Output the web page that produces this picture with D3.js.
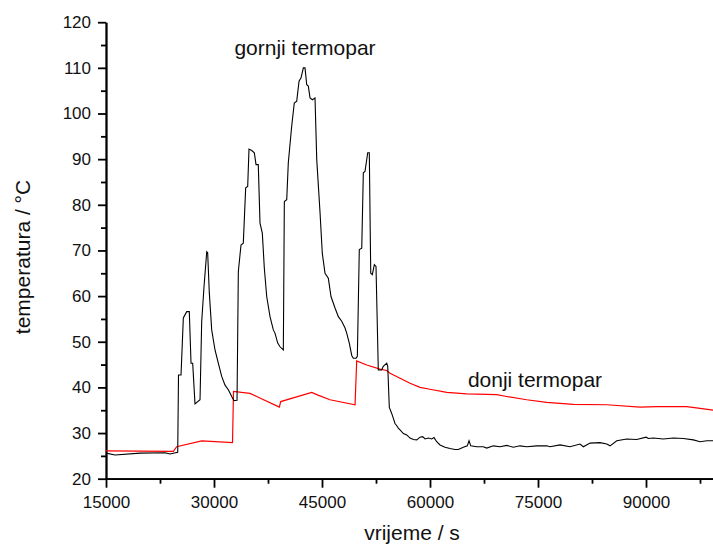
<!DOCTYPE html>
<html>
<head>
<meta charset="utf-8">
<script src="https://cdn.jsdelivr.net/npm/d3@7"></script>
<style>
  body { margin: 0; background: #fff; }
  svg { font-family: Arial, "Liberation Sans", sans-serif; }
  .axis path, .axis line { stroke: #000; stroke-width: 1.8; }
  .axis text { font-size: 17px; fill: #111; font-family: Arial, "Liberation Sans", sans-serif; }
</style>
</head>
<body>
<svg id="chart" width="713" height="550"></svg>
<script>
// upper thermocouple (gornji termopar): time [s], temperature [°C]
var gornjiT = [15000,16250,19720,23200,23890,24960,25070,25420,25740,26210,26570,26810,27040,27360,28060,28290,28610,28990,29120,29350,29680,30140,30600,31070,31530,31990,32460,32780,33200,33380,33750,34070,34400,34680,34860,35240,35600,35840,36150,36390,36710,36990,37320,37780,38240,38470,38850,39170,39630,39770,40100,40320,40790,41150,41490,41810,42090,42410,42640,42880,43100,43340,43660,44030,44270,44730,45040,45420,45880,46250,46810,47270,47740,48200,48430,48790,49130,49350,49730,49910,50180,50520,50740,50970,51350,51570,51770,51990,52270,52500,52820,53290,53510,53990,54130,54350,54680,54910,55140,55380,55600,55840,56300,56770,57230,57680,58160,58610,58990,59310,59770,60240,60560,60930,61390,62090,62780,63480,63930,64630,65180,65420,65660,66490,67410,67880,68800,69730,70650,71570,72500,73430,74820,76210,76670,78060,79450,80840,81300,82230,83620,84550,85010,85940,87330,88720,90010,90330,91020,92410,93800,95190,96580,97510,98440,99370];
var gornjiV = [25.6,25.2,25.6,25.7,25.4,25.8,42.7,42.7,55.2,56.6,56.6,45.3,45.3,36.4,37.3,54.4,62.0,69.7,69.5,60.7,52.6,48.2,45.3,42.4,40.5,39.5,38.0,37.1,37.2,65.4,71.2,71.6,83.7,84.0,92.2,91.9,91.4,88.8,88.8,76.0,73.8,66.1,59.9,55.5,52.6,51.9,49.7,48.9,48.2,80.7,81.1,89.2,97.2,102.3,102.7,107.1,107.8,110.0,110.0,106.3,106.0,103.4,103.0,103.4,89.9,78.2,69.4,65.0,63.9,59.9,57.4,55.5,54.5,53.0,51.9,49.7,47.0,46.4,46.4,46.8,70.2,70.5,87.0,87.3,91.4,91.4,65.0,64.7,66.9,66.5,43.8,43.8,44.6,45.3,44.6,35.6,34.3,33.2,32.1,31.6,31.1,30.7,29.9,29.6,28.9,28.6,28.5,29.1,29.2,28.7,28.9,28.7,29.0,28.1,27.4,26.9,26.6,26.4,26.4,26.9,27.2,28.3,27.2,27.0,27.0,26.7,27.2,27.0,27.3,26.9,27.2,27.0,27.2,27.2,27.0,27.4,27.0,27.6,27.0,27.8,27.9,27.6,27.2,28.3,28.7,28.6,29.1,28.8,28.9,28.7,28.9,28.8,28.5,28.1,28.3,28.3];

// lower thermocouple (donji termopar)
var donjiT = [15000,24350,24820,28290,32570,32710,35000,35930,39070,39270,43570,44450,46110,49590,49820,51210,53060,53990,54450,55840,57230,58610,60000,62320,65100,69270,70660,73430,76210,79910,84550,89170,91490,95660,97510,99370];
var donjiV = [26.1,26.0,27.0,28.3,27.9,39.1,38.7,38.0,35.7,36.9,38.9,38.3,37.3,36.2,45.8,44.9,44.0,43.7,43.1,42.0,40.9,40.0,39.6,38.9,38.6,38.4,38.0,37.3,36.7,36.3,36.2,35.7,35.8,35.8,35.4,35.0];

var xTicks = [15000, 30000, 45000, 60000, 75000, 90000];
var yTicks = [20, 30, 40, 50, 60, 70, 80, 90, 100, 110, 120];

var svg = d3.select("#chart");
var plotLeft = 106, plotBottom = 478.7, plotTop = 22.2;

var x = d3.scaleLinear().domain([15000, 100000]).range([plotLeft, plotLeft + 85000 * 0.0072]);
var y = d3.scaleLinear().domain([20, 120]).range([plotBottom, plotTop]);

svg.append("clipPath").attr("id", "clip")
  .append("rect").attr("x", plotLeft).attr("y", 0).attr("width", 713 - plotLeft).attr("height", plotBottom);

/* minor ticks */
var xMinor = d3.range(22500, 100000, 15000);
var yMinor = d3.range(25, 120, 10);
svg.append("g").attr("class", "axis")
  .attr("transform", "translate(0," + plotBottom + ")")
  .call(d3.axisBottom(x).tickValues(xMinor).tickFormat("").tickSize(5).tickSizeOuter(0));
svg.append("g").attr("class", "axis")
  .attr("transform", "translate(" + plotLeft + ",0)")
  .call(d3.axisLeft(y).tickValues(yMinor).tickFormat("").tickSize(5).tickSizeOuter(0));

/* main axes */
svg.append("g").attr("class", "axis")
  .attr("transform", "translate(0," + plotBottom + ")")
  .call(d3.axisBottom(x).tickValues(xTicks).tickFormat(d3.format("d")).tickSize(9).tickPadding(8).tickSizeOuter(0));
svg.append("g").attr("class", "axis")
  .attr("transform", "translate(" + plotLeft + ",0)")
  .call(d3.axisLeft(y).tickValues(yTicks).tickSize(8).tickPadding(7).tickSizeOuter(0));

/* lines */
var line = d3.line()
  .x(function (d) { return x(d[0]); })
  .y(function (d) { return y(d[1]); });

var plot = svg.append("g").attr("clip-path", "url(#clip)");
plot.append("path")
  .datum(donjiT.map(function (t, i) { return [t, donjiV[i]]; }))
  .attr("d", line).attr("fill", "none").attr("stroke", "#ff0000").attr("stroke-width", 1.2);
plot.append("path")
  .datum(gornjiT.map(function (t, i) { return [t, gornjiV[i]]; }))
  .attr("d", line).attr("fill", "none").attr("stroke", "#000").attr("stroke-width", 1.1);

/* labels */
svg.append("text").attr("x", 305).attr("y", 55).attr("text-anchor", "middle")
  .style("font-size", "21px").attr("fill", "#111").text("gornji termopar");
svg.append("text").attr("x", 535).attr("y", 387).attr("text-anchor", "middle")
  .style("font-size", "21px").attr("fill", "#111").text("donji termopar");

svg.append("text").attr("x", 412).attr("y", 540).attr("text-anchor", "middle")
  .style("font-size", "21px").attr("fill", "#111").text("vrijeme / s");
svg.append("text").attr("transform", "translate(30,257) rotate(-90)").attr("text-anchor", "middle")
  .style("font-size", "21px").attr("fill", "#111").text("temperatura / °C");
</script>
</body>
</html>
